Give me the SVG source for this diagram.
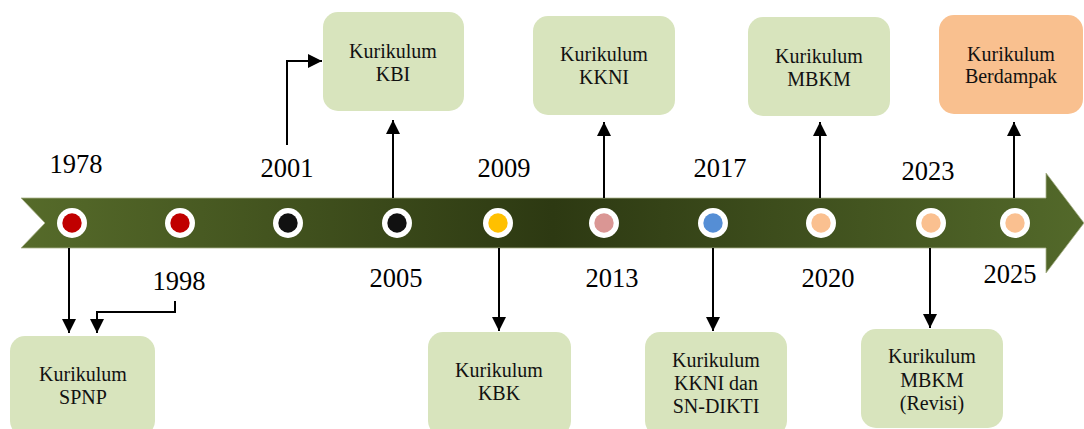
<svg xmlns="http://www.w3.org/2000/svg" width="1084" height="429" viewBox="0 0 1084 429">
<defs>
<linearGradient id="band" gradientUnits="userSpaceOnUse" x1="21" y1="0" x2="1084" y2="0">
<stop offset="0" stop-color="#566b2a"/>
<stop offset="0.5" stop-color="#2d3912"/>
<stop offset="1" stop-color="#53692a"/>
</linearGradient>
<marker id="ah" markerUnits="userSpaceOnUse" markerWidth="14" markerHeight="14" refX="14" refY="7" orient="auto">
<path d="M0,0 L14,7 L0,14 z" fill="#000"/>
</marker>
<style>
.box{fill:#d8e4bd;}
.orange{fill:#f9c08f;}
.lbl{font-family:"Liberation Serif","Times New Roman",serif;font-size:20px;fill:#111;text-anchor:middle;}
.yr{font-family:"Liberation Serif","Times New Roman",serif;font-size:26.5px;fill:#000;text-anchor:middle;}
.ring{fill:#fff;}
.conn path{fill:none;stroke:#000;stroke-width:2;marker-end:url(#ah);}
</style>
</defs>
<rect width="1084" height="429" fill="#fff"/>
<g id="timeline">
<polygon points="21,198 1046,198 1046,173 1084,223 1046,273 1046,248 21,248 45,223" fill="url(#band)" stroke="#a9b38c" stroke-width="0.8"/>
</g>
<g id="dots">
<circle class="ring" cx="72" cy="223" r="15"/><circle cx="72" cy="223" r="9.7" fill="#c00000"/>
<circle class="ring" cx="180" cy="223" r="15"/><circle cx="180" cy="223" r="9.7" fill="#c00000"/>
<circle class="ring" cx="288" cy="223" r="15"/><circle cx="288" cy="223" r="9.7" fill="#111111"/>
<circle class="ring" cx="397" cy="223" r="15"/><circle cx="397" cy="223" r="9.7" fill="#111111"/>
<circle class="ring" cx="498" cy="223" r="15"/><circle cx="498" cy="223" r="9.7" fill="#ffc000"/>
<circle class="ring" cx="604" cy="223" r="15"/><circle cx="604" cy="223" r="9.7" fill="#da9694"/>
<circle class="ring" cx="713" cy="223" r="15"/><circle cx="713" cy="223" r="9.7" fill="#558ed5"/>
<circle class="ring" cx="821" cy="223" r="15"/><circle cx="821" cy="223" r="9.7" fill="#fac090"/>
<circle class="ring" cx="931" cy="223" r="15"/><circle cx="931" cy="223" r="9.7" fill="#fac090"/>
<circle class="ring" cx="1015" cy="223" r="15"/><circle cx="1015" cy="223" r="9.7" fill="#fac090"/>
</g>
<g id="years">
<text class="yr" x="76" y="173">1978</text>
<text class="yr" x="287" y="177">2001</text>
<text class="yr" x="504" y="177">2009</text>
<text class="yr" x="720" y="177">2017</text>
<text class="yr" x="928" y="180">2023</text>
<text class="yr" x="179" y="290">1998</text>
<text class="yr" x="396" y="287">2005</text>
<text class="yr" x="612" y="287">2013</text>
<text class="yr" x="828" y="287">2020</text>
<text class="yr" x="1010" y="283">2025</text>
</g>
<g class="conn" id="connectors">
<path d="M69,248 V333"/>
<path d="M175,301 V312 H97 V333"/>
<path d="M287,145 V61 H322"/>
<path d="M393,198 V120"/>
<path d="M499,248 V331"/>
<path d="M604,198 V122"/>
<path d="M713,248 V331"/>
<path d="M820,198 V122"/>
<path d="M930,248 V328"/>
<path d="M1014,198 V122"/>
</g>
<g id="n-spnp"><rect class="box" x="10" y="336" width="145" height="100" rx="15"/>
<text class="lbl" x="83" y="381">Kurikulum</text><text class="lbl" x="83" y="404">SPNP</text></g>
<g id="n-kbi"><rect class="box" x="323" y="12" width="141" height="99" rx="15"/>
<text class="lbl" x="393" y="58">Kurikulum</text><text class="lbl" x="393" y="81">KBI</text></g>
<g id="n-kbk"><rect class="box" x="428" y="332" width="143" height="104" rx="15"/>
<text class="lbl" x="499" y="377">Kurikulum</text><text class="lbl" x="499" y="400">KBK</text></g>
<g id="n-kkni"><rect class="box" x="533" y="16" width="142" height="99" rx="15"/>
<text class="lbl" x="604" y="61">Kurikulum</text><text class="lbl" x="604" y="84">KKNI</text></g>
<g id="n-sndikti"><rect class="box" x="645" y="332" width="142" height="104" rx="15"/>
<text class="lbl" x="716" y="367">Kurikulum</text><text class="lbl" x="716" y="390">KKNI dan</text><text class="lbl" x="716" y="413">SN-DIKTI</text></g>
<g id="n-mbkm"><rect class="box" x="748" y="17" width="142" height="99" rx="15"/>
<text class="lbl" x="819" y="63">Kurikulum</text><text class="lbl" x="819" y="86">MBKM</text></g>
<g id="n-revisi"><rect class="box" x="861" y="329" width="142" height="99" rx="15"/>
<text class="lbl" x="932" y="363">Kurikulum</text><text class="lbl" x="932" y="387">MBKM</text><text class="lbl" x="932" y="410">(Revisi)</text></g>
<g id="n-berdampak"><rect class="orange" x="939" y="15" width="144" height="99" rx="15"/>
<text class="lbl" x="1011" y="61">Kurikulum</text><text class="lbl" x="1011" y="83">Berdampak</text></g>
</svg>
